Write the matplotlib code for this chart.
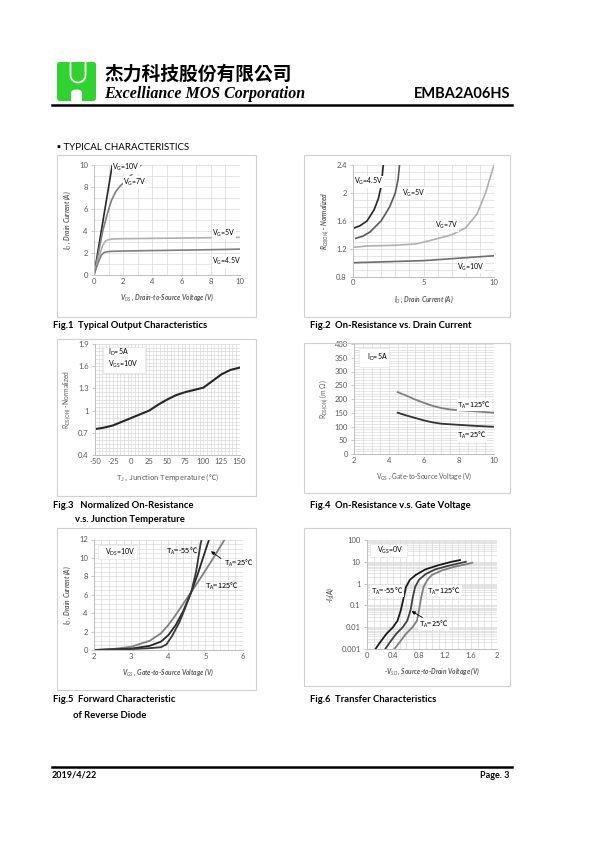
import matplotlib
matplotlib.use('Agg')
import matplotlib.pyplot as plt
from matplotlib.patches import Rectangle, FancyBboxPatch, Ellipse
from matplotlib.lines import Line2D
from matplotlib.ticker import MultipleLocator, FixedLocator, NullFormatter, FuncFormatter, LogLocator
import numpy as np

plt.rcParams['font.family'] = ['Lato', 'DejaVu Sans', 'Noto Sans CJK TC']
plt.rcParams['mathtext.fontset'] = 'custom'
plt.rcParams['mathtext.rm'] = 'Lato'
plt.rcParams['mathtext.it'] = 'Lato:italic'
plt.rcParams['mathtext.bf'] = 'Lato:bold'
plt.rcParams['axes.unicode_minus'] = False

# ---------------- data ----------------
# Fig.1 output characteristics
f1_vg10_x = [0, 0.5, 1.0, 1.25]
f1_vg10_y = [0, 4.0, 8.0, 10.0]
f1_vg7_x = [0, 0.3, 0.6, 0.9, 1.2, 1.5, 1.8, 2.2, 2.7, 3.2]
f1_vg7_y = [0, 2.0, 4.0, 5.5, 6.8, 7.6, 8.1, 8.6, 9.3, 10.0]
f1_vg5_x = [0, 0.3, 0.6, 0.8, 1.0, 1.3, 2, 4, 6, 8, 10]
f1_vg5_y = [0, 1.5, 2.7, 3.1, 3.22, 3.28, 3.3, 3.33, 3.36, 3.39, 3.42]
f1_vg45_x = [0, 0.25, 0.5, 0.7, 0.9, 1.2, 2, 4, 6, 8, 10]
f1_vg45_y = [0, 1.0, 1.8, 2.05, 2.12, 2.15, 2.18, 2.22, 2.26, 2.3, 2.35]

# Fig.2 on-resistance vs drain current
f2_vg45_x = [0.1, 0.5, 1.0, 1.5, 1.8, 2.0, 2.1, 2.15]
f2_vg45_y = [1.5, 1.53, 1.6, 1.76, 1.92, 2.1, 2.3, 2.4]
f2_vg5_x = [0.2, 0.7, 1.2, 2.0, 2.6, 3.0, 3.2, 3.3]
f2_vg5_y = [1.35, 1.38, 1.44, 1.6, 1.8, 2.0, 2.2, 2.4]
f2_vg7_x = [0, 1, 3, 4.5, 5.5, 7, 8, 8.8, 9.4, 10]
f2_vg7_y = [1.22, 1.24, 1.25, 1.27, 1.32, 1.4, 1.5, 1.7, 2.0, 2.4]
f2_vg10_x = [0, 5, 10]
f2_vg10_y = [1.0, 1.03, 1.1]

# Fig.3 normalized on-resistance vs temperature
f3_t = [-50, -37.5, -25, -12.5, 0, 12.5, 25, 37.5, 50, 62.5, 75, 87.5, 100, 112.5, 125, 137.5, 150]
f3_r = [0.75, 0.77, 0.80, 0.85, 0.90, 0.95, 1.0, 1.08, 1.15, 1.21, 1.25, 1.28, 1.31, 1.40, 1.49, 1.55, 1.58]
f3_yticks = [0.4, 0.7, 1.0, 1.3, 1.6, 1.9]

# Fig.4 on-resistance vs gate voltage
f4_vgs = [4.5, 5, 5.5, 6, 6.5, 7, 7.5, 8, 9, 10]
f4_r125 = [225, 212, 198, 186, 175, 167, 162, 159, 155, 150]
f4_r25 = [150, 140, 131, 122, 115, 110, 108, 106, 102, 99]

# Fig.5 forward characteristic
f5_m55_x = [2, 3, 3.5, 3.8, 3.95, 4.1, 4.3, 4.45, 4.62, 4.75, 4.87, 4.9]
f5_m55_y = [0, 0.1, 0.2, 0.3, 0.6, 1.5, 3.0, 4.5, 6.3, 8.5, 11.5, 12]
f5_25_x = [2, 3, 3.5, 3.8, 4.0, 4.2, 4.4, 4.62, 4.8, 5.0, 5.1]
f5_25_y = [0, 0.15, 0.45, 0.9, 1.6, 2.7, 4.2, 6.3, 8.3, 10.8, 12]
f5_125_x = [2, 2.5, 3, 3.5, 3.8, 4.0, 4.2, 4.4, 4.62, 4.9, 5.2, 5.52]
f5_125_y = [0, 0.1, 0.35, 1.0, 1.8, 2.7, 3.8, 5.0, 6.3, 8.0, 9.9, 12]

# Fig.6 transfer (body diode)
f6_m55_x = [0.13, 0.2, 0.3, 0.4, 0.47, 0.52, 0.56, 0.6, 0.66, 0.75, 0.9, 1.1, 1.3, 1.43]
f6_m55_y = [0.001, 0.002, 0.005, 0.01, 0.02, 0.06, 0.2, 0.7, 1.5, 2.5, 4.5, 7, 10, 12]
f6_25_x = [0.28, 0.35, 0.45, 0.55, 0.62, 0.67, 0.7, 0.74, 0.8, 0.9, 1.05, 1.25, 1.45, 1.52]
f6_25_y = [0.001, 0.002, 0.005, 0.01, 0.02, 0.06, 0.2, 0.7, 1.5, 2.7, 4.5, 6.5, 9, 10]
f6_125_x = [0.42, 0.5, 0.6, 0.7, 0.77, 0.8, 0.83, 0.87, 0.93, 1.0, 1.15, 1.35, 1.55, 1.62]
f6_125_y = [0.001, 0.002, 0.005, 0.01, 0.02, 0.06, 0.2, 0.7, 1.5, 2.5, 4, 6, 8, 9]
f6_yticks = [0.001, 0.01, 0.1, 1, 10, 100]

# ---------------- figure ----------------
W, H = 595, 842
fig = plt.figure(figsize=(W / 100, H / 100), dpi=100)

TXT = '#595959'
GRID = '#d9d9d9'
AX = '#bfbfbf'
CJK = ['Noto Sans CJK TC']


def rect(x0, y0, x1, y1):
    return [x0 / W, 1 - y1 / H, (x1 - x0) / W, (y1 - y0) / H]


def ftext(x, y, s, **kw):
    return fig.text(x / W, 1 - y / H, s, **kw)


def frame(x0, y0, x1, y1):
    fig.add_artist(Rectangle((x0 / W, 1 - y1 / H), (x1 - x0) / W, (y1 - y0) / H,
                             transform=fig.transFigure, fill=False, ec='#d0d0d0', lw=0.8))


def gfmt(v, p):
    return '%g' % round(v, 3)


def style(ax, xminor, yminor):
    for s in ['top', 'right']:
        ax.spines[s].set_visible(False)
    for s in ['left', 'bottom']:
        ax.spines[s].set_color(AX)
        ax.spines[s].set_linewidth(0.7)
    ax.tick_params(labelsize=5.5, labelcolor=TXT, color=AX, length=2.5, width=0.6, pad=2)
    ax.tick_params(axis='x', length=0)
    if xminor:
        ax.xaxis.set_minor_locator(MultipleLocator(xminor))
    if yminor:
        ax.yaxis.set_minor_locator(MultipleLocator(yminor))
    ax.tick_params(which='minor', length=0)
    ax.grid(True, which='both', color=GRID, lw=0.5)
    ax.set_axisbelow(True)


def box(ax, x0, y0, x1, y1):
    ax.add_patch(Rectangle((x0, y0), x1 - x0, y1 - y0, transform=ax.transAxes,
                           fc='white', ec='#e6e6e6', lw=0.5, zorder=3))


lab = dict(fontsize=5, color='black', zorder=5)
labc = dict(fontsize=5.4, color='black', zorder=5, family=CJK)
wbg = dict(fc='white', ec='none', pad=0.4)

# ---------------- header ----------------
logo = FancyBboxPatch((57 / W, 1 - 101 / H), 39 / W, 39 / H, boxstyle='round,pad=0,rounding_size=0.004',
                      transform=fig.transFigure, fc='#2fd22f', ec='none')
fig.add_artist(logo)
fig.add_artist(Rectangle((71 / W, 1 - 101.5 / H), 11 / W, 9 / H, transform=fig.transFigure, fc='white', ec='none'))
fig.add_artist(Ellipse((76.5 / W, 1 - 92.5 / H), 11 / W, 6 / H, transform=fig.transFigure, fc='white', ec='none'))
th = np.linspace(np.pi, 2 * np.pi, 30)
ux = np.concatenate([[70.5], 78 + 7.5 * np.cos(th), [85.5]])
uy = np.concatenate([[62.5], 75 - 7.5 * np.sin(th), [62.5]])
fig.add_artist(Line2D(ux / W, 1 - uy / H, transform=fig.transFigure, color='white', lw=1.3))

ftext(104, 74, '杰力科技股份有限公司', family=CJK, fontsize=13.5, fontweight='bold',
      va='center', ha='left')
ftext(104, 94, 'Excelliance MOS Corporation', family=['Liberation Serif'], fontsize=11.5,
      fontweight='bold', fontstyle='italic', va='center', ha='left')
ftext(510, 94, 'EMBA2A06HS', fontsize=10.5, fontweight='bold', va='center', ha='right')
fig.add_artist(Line2D([52 / W, 512 / W], [1 - 104.5 / H] * 2, transform=fig.transFigure, color='black', lw=1.8))

ftext(57, 147, '▪ TYPICAL CHARACTERISTICS', fontsize=7, va='center', ha='left')

# footer
fig.add_artist(Line2D([52 / W, 512 / W], [1 - 767 / H] * 2, transform=fig.transFigure, color='black', lw=1.8))
ftext(52, 775, '2019/4/22', fontsize=6.5, fontweight='bold', va='center', ha='left')
ftext(509, 775, 'Page. 3', fontsize=6.5, fontweight='bold', va='center', ha='right')

# frames
frame(57, 155, 256, 317)
frame(304, 155, 510, 317)
frame(57, 339, 256, 496)
frame(304, 343, 510, 493)
frame(57, 528, 256, 690)
frame(304, 528, 510, 686)

cap = dict(fontsize=6.8, fontweight='bold', va='center', ha='left')
ftext(53, 326, 'Fig.1  Typical Output Characteristics', **cap)
ftext(310, 326, 'Fig.2  On-Resistance vs. Drain Current', **cap)
ftext(53, 506, 'Fig.3   Normalized On-Resistance', **cap)
ftext(75, 519, 'v.s. Junction Temperature', **cap)
ftext(310, 506, 'Fig.4  On-Resistance v.s. Gate Voltage', **cap)
ftext(53, 699, 'Fig.5  Forward Characteristic', **cap)
ftext(73, 716, 'of Reverse Diode', **cap)
ftext(310, 699, 'Fig.6  Transfer Characteristics', **cap)

axlab = dict(fontsize=4.8, color=TXT)
axlab_bi = dict(fontsize=4.8, color=TXT, fontweight='bold', fontstyle='italic')

# ---------------- Fig.1 ----------------
ax1 = fig.add_axes(rect(94, 165, 240, 275))
style(ax1, 1, 1)
ax1.plot(f1_vg10_x, f1_vg10_y, color='#262626', lw=1.2)
ax1.plot(f1_vg7_x, f1_vg7_y, color='#7f7f7f', lw=1.2)
ax1.plot(f1_vg5_x, f1_vg5_y, color='#b0b0b0', lw=1.2)
ax1.plot(f1_vg45_x, f1_vg45_y, color='#7f7f7f', lw=1.2)
ax1.set_xlim(0, 10); ax1.set_ylim(0, 10)
ax1.xaxis.set_major_locator(MultipleLocator(2)); ax1.yaxis.set_major_locator(MultipleLocator(2))
ax1.text(1.25, 9.75, 'V$_\\mathregular{G}$=10V', va='center', bbox=wbg, **lab)
ax1.text(2.0, 8.4, 'V$_\\mathregular{G}$=7V', va='center', bbox=wbg, **lab)
ax1.text(8.1, 3.8, 'V$_\\mathregular{G}$=5V', va='center', bbox=wbg, **lab)
ax1.text(8.1, 1.2, 'V$_\\mathregular{G}$=4.5V', va='center', bbox=wbg, **lab)
ax1.set_xlabel('V$_{DS}$ , Drain-to-Source Voltage (V)', labelpad=5, **axlab_bi)
ax1.set_ylabel('I$_{D}$ , Drain Current (A)', labelpad=4, **axlab_bi)

# ---------------- Fig.2 ----------------
ax2 = fig.add_axes(rect(353, 165, 494, 276.7))
style(ax2, 1, 0.1)
ax2.plot(f2_vg45_x, f2_vg45_y, color='#262626', lw=1.2)
ax2.plot(f2_vg5_x, f2_vg5_y, color='#595959', lw=1.2)
ax2.plot(f2_vg7_x, f2_vg7_y, color='#b0b0b0', lw=1.2)
ax2.plot(f2_vg10_x, f2_vg10_y, color='#6e6e6e', lw=1.2)
ax2.set_xlim(0, 10); ax2.set_ylim(0.8, 2.4)
ax2.xaxis.set_major_locator(MultipleLocator(5))
ax2.yaxis.set_major_locator(FixedLocator([0.8, 1.2, 1.6, 2.0, 2.4]))
ax2.yaxis.set_major_formatter(FuncFormatter(gfmt))
ax2.text(0.1, 2.16, 'V$_\\mathregular{G}$=4.5V', va='center', bbox=wbg, **lab)
ax2.text(3.5, 2.0, 'V$_\\mathregular{G}$=5V', va='center', bbox=wbg, **lab)
ax2.text(5.8, 1.53, 'V$_\\mathregular{G}$=7V', va='center', bbox=wbg, **lab)
ax2.text(7.4, 0.94, 'V$_\\mathregular{G}$=10V', va='center', bbox=wbg, **lab)
ax2.set_xlabel('I$_{D}$ , Drain Current (A)', labelpad=5, **axlab_bi)
ax2.set_ylabel('R$_{DS(ON)}$ - Normalized', labelpad=4, **axlab_bi)

# ---------------- Fig.3 ----------------
ax3 = fig.add_axes(rect(95, 344, 239.5, 455))
style(ax3, 5, 0.05)
ax3.plot(f3_t, f3_r, color='#262626', lw=1.5)
ax3.set_xlim(-50, 150); ax3.set_ylim(0.4, 1.9)
ax3.xaxis.set_major_locator(MultipleLocator(25))
ax3.yaxis.set_major_locator(FixedLocator(f3_yticks))
ax3.yaxis.set_major_formatter(FuncFormatter(gfmt))
box(ax3, 0.055, 0.74, 0.345, 0.975)
ax3.text(0.09, 0.925, 'I$_\\mathregular{D}$=5A', transform=ax3.transAxes, va='center', **lab)
ax3.text(0.09, 0.815, 'V$_\\mathregular{GS}$=10V', transform=ax3.transAxes, va='center', **lab)
ax3.set_xlabel('T$_\\mathregular{J}$ , Junction Temperature (℃)', labelpad=5, fontsize=5.2,
               color=TXT, family=CJK)
ax3.set_ylabel('R$_\\mathregular{DS(ON)}$ -Normalized', labelpad=4, **axlab)

# ---------------- Fig.4 ----------------
ax4 = fig.add_axes(rect(354, 344, 494, 454))
style(ax4, 0.5, 10)
ax4.plot(f4_vgs, f4_r125, color='#808080', lw=1.3)
ax4.plot(f4_vgs, f4_r25, color='#333333', lw=1.3)
ax4.set_xlim(2, 10); ax4.set_ylim(0, 400)
ax4.xaxis.set_major_locator(MultipleLocator(2)); ax4.yaxis.set_major_locator(MultipleLocator(50))
box(ax4, 0.036, 0.79, 0.25, 0.964)
ax4.text(0.09, 0.875, 'I$_\\mathregular{D}$=5A', transform=ax4.transAxes, va='center', **lab)
ax4.text(7.9, 177, 'T$_\\mathregular{A}$=125℃', va='center', bbox=wbg, **labc)
ax4.text(7.9, 66, 'T$_\\mathregular{A}$=25℃', va='center', bbox=wbg, **labc)
ax4.set_xlabel('V$_\\mathregular{GS}$ , Gate-to-Source Voltage (V)', labelpad=5, **axlab)
ax4.set_ylabel('R$_\\mathregular{DS(ON)}$ (m Ω)', labelpad=3, **axlab)

# ---------------- Fig.5 ----------------
ax5 = fig.add_axes(rect(94, 539.5, 242.5, 650))
style(ax5, 0.2, 0.5)
ax5.plot(f5_125_x, f5_125_y, color='#7f7f7f', lw=1.3)
ax5.plot(f5_25_x, f5_25_y, color='#262626', lw=1.3)
ax5.plot(f5_m55_x, f5_m55_y, color='#3a3a3a', lw=1.3)
ax5.set_xlim(2, 6); ax5.set_ylim(0, 12)
ax5.xaxis.set_major_locator(MultipleLocator(1)); ax5.yaxis.set_major_locator(MultipleLocator(2))
box(ax5, 0.027, 0.82, 0.29, 0.95)
ax5.text(0.075, 0.885, 'V$_\\mathregular{DS}$=10V', transform=ax5.transAxes, va='center', **lab)
ax5.text(3.95, 10.7, 'T$_\\mathregular{A}$=-55℃', va='center', **labc)
ax5.text(5.5, 9.4, 'T$_\\mathregular{A}$=25℃', va='center', **labc)
ax5.text(4.98, 6.9, 'T$_\\mathregular{A}$=125℃', va='center', **labc)
ax5.annotate('', xy=(5.09, 10.9), xytext=(5.48, 9.76),
             arrowprops=dict(arrowstyle='-|>', color='black', lw=0.6, mutation_scale=5))
ax5.set_xlabel('V$_{GS}$ , Gate-to-Source Voltage (V)', labelpad=5, **axlab_bi)
ax5.set_ylabel('I$_{D}$ , Drain Current (A)', labelpad=4, **axlab_bi)

# ---------------- Fig.6 ----------------
ax6 = fig.add_axes(rect(367, 540, 497, 649))
style(ax6, 0.1, None)
ax6.set_yscale('log')
ax6.plot(f6_125_x, f6_125_y, color='#7f7f7f', lw=1.3)
ax6.plot(f6_25_x, f6_25_y, color='#404040', lw=1.3)
ax6.plot(f6_m55_x, f6_m55_y, color='#1a1a1a', lw=1.3)
ax6.set_xlim(0, 2); ax6.set_ylim(0.001, 100)
ax6.xaxis.set_major_locator(MultipleLocator(0.4))
ax6.yaxis.set_major_locator(FixedLocator(f6_yticks))
ax6.yaxis.set_major_formatter(FuncFormatter(lambda v, p: '%g' % v))
ax6.yaxis.set_minor_locator(LogLocator(subs=np.arange(2, 10)))
ax6.yaxis.set_minor_formatter(NullFormatter())
ax6.xaxis.set_major_formatter(FuncFormatter(gfmt))
ax6.tick_params(which='minor', length=0)
ax6.grid(True, which='both', color=GRID, lw=0.5)
box(ax6, 0.023, 0.844, 0.31, 0.963)
ax6.text(0.08, 0.9, 'V$_\\mathregular{GS}$=0V', transform=ax6.transAxes, va='center', **lab)
ax6.text(0.06, 0.46, 'T$_\\mathregular{A}$=-55℃', va='center', bbox=wbg, **labc)
ax6.text(0.93, 0.46, 'T$_\\mathregular{A}$=125℃', va='center', bbox=wbg, **labc)
ax6.text(0.8, 0.014, 'T$_\\mathregular{A}$=25℃', va='center', bbox=wbg, **labc)
ax6.annotate('', xy=(0.65, 0.063), xytext=(0.89, 0.024),
             arrowprops=dict(arrowstyle='-|>', color='black', lw=0.6, mutation_scale=5))
ax6.set_xlabel('-V$_{SD}$ , Source-to-Drain Voltage (V)', labelpad=5, **axlab_bi)
ax6.set_ylabel('-I$_{S}$(A)', labelpad=4, **axlab_bi)

fig.savefig('out.png', dpi=100)
